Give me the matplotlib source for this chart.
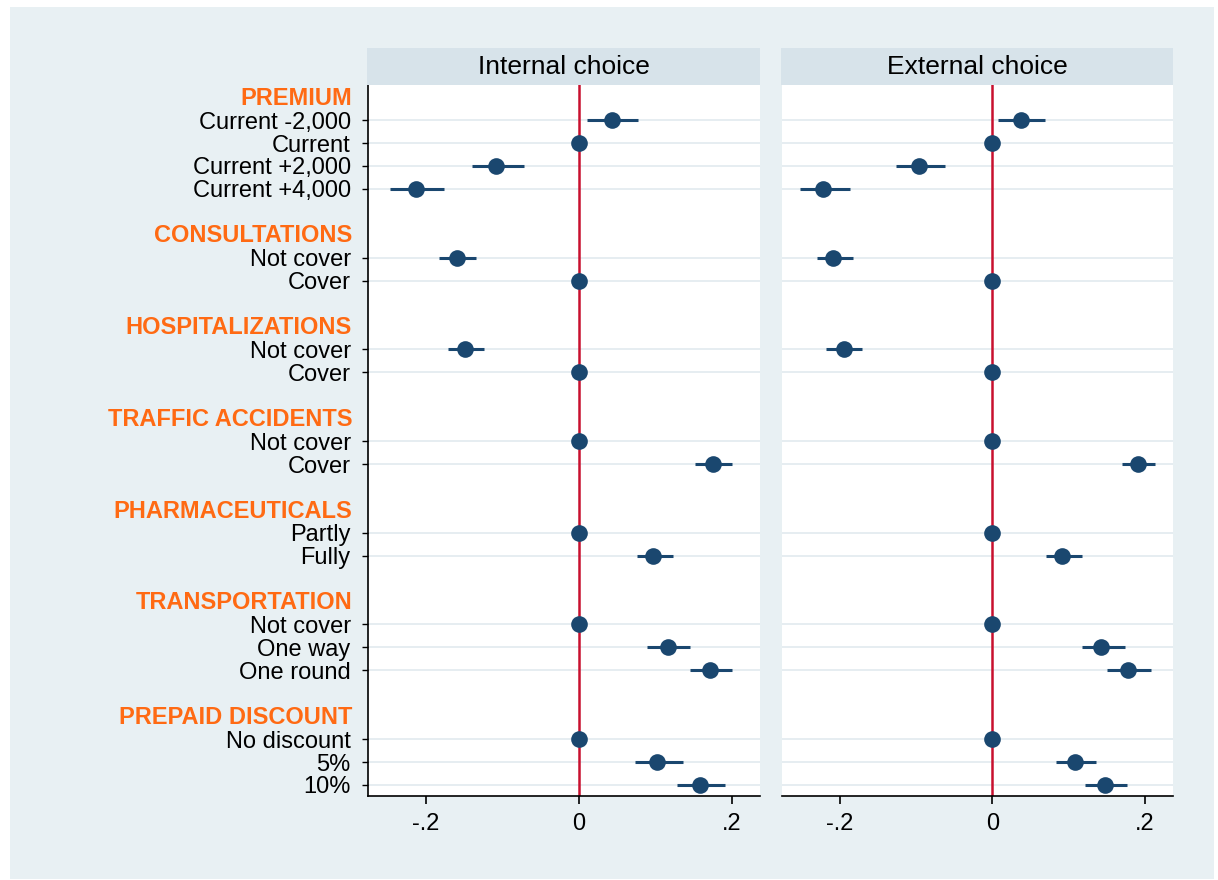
import numpy as np
import matplotlib
matplotlib.use("Agg")
import matplotlib.pyplot as plt
from matplotlib.patches import Rectangle
import matplotlib.transforms as mtransforms

plt.rcParams["font.family"] = ["Liberation Sans", "DejaVu Sans"]

# Attribute groups and their levels (top to bottom)
groups = ["PREMIUM", "CONSULTATIONS", "HOSPITALIZATIONS", "TRAFFIC ACCIDENTS",
          "PHARMACEUTICALS", "TRANSPORTATION", "PREPAID DISCOUNT"]
levels = [
    ["Current -2,000", "Current", "Current +2,000", "Current +4,000"],
    ["Not cover", "Cover"],
    ["Not cover", "Cover"],
    ["Not cover", "Cover"],
    ["Partly", "Fully"],
    ["Not cover", "One way", "One round"],
    ["No discount", "5%", "10%"],
]

# Coefficients and 95% CI bounds, one entry per level (reference levels = 0)
internal_coef = [0.043, 0.0, -0.108, -0.213, -0.160, 0.0, -0.149, 0.0, 0.0, 0.175,
                 0.0, 0.097, 0.0, 0.116, 0.172, 0.0, 0.102, 0.158]
internal_lo = [0.010, 0.0, -0.140, -0.247, -0.183, 0.0, -0.171, 0.0, 0.0, 0.152,
               0.0, 0.076, 0.0, 0.089, 0.146, 0.0, 0.073, 0.129]
internal_hi = [0.077, 0.0, -0.072, -0.176, -0.135, 0.0, -0.124, 0.0, 0.0, 0.201,
               0.0, 0.123, 0.0, 0.146, 0.201, 0.0, 0.136, 0.191]

external_coef = [0.038, 0.0, -0.096, -0.222, -0.209, 0.0, -0.195, 0.0, 0.0, 0.191,
                 0.0, 0.091, 0.0, 0.143, 0.178, 0.0, 0.108, 0.148]
external_lo = [0.008, 0.0, -0.126, -0.252, -0.230, 0.0, -0.218, 0.0, 0.0, 0.170,
               0.0, 0.070, 0.0, 0.117, 0.151, 0.0, 0.084, 0.122]
external_hi = [0.069, 0.0, -0.062, -0.187, -0.183, 0.0, -0.171, 0.0, 0.0, 0.214,
               0.0, 0.117, 0.0, 0.174, 0.208, 0.0, 0.136, 0.177]

panel_titles = ["Internal choice", "External choice"]
xticks = [-0.2, 0.0, 0.2]
xticklabels = ["-.2", "0", ".2"]

# Row layout: header row, level rows, then a blank row between groups
header_rows, item_rows, item_labels = [], [], []
r = 0
for g, lv in zip(groups, levels):
    header_rows.append(r)
    r += 1
    for name in lv:
        item_rows.append(r)
        item_labels.append(name)
        r += 1
    r += 1
last_row = item_rows[-1]

W, H = 1218, 880
fig = plt.figure(figsize=(W / 100, H / 100), dpi=100)
fig.patch.set_facecolor("white")

BG = "#e8f0f3"
STRIP = "#d7e3ea"
NAVY = "#1a476f"
RED = "#c8102e"
ORANGE = "#ff6a13"

fig.add_artist(Rectangle((10 / W, 1 - 879 / H), (1214 - 10) / W, (879 - 7) / H,
                         transform=fig.transFigure, facecolor=BG,
                         edgecolor="none", zorder=-10))

def fx(px):
    return px / W

def fy(py):
    return 1 - py / H

panel_px = [(368, 760), (782, 1173)]
top_px, bot_px = 85, 796
strip_top = 48

data = [(internal_coef, internal_lo, internal_hi),
        (external_coef, external_lo, external_hi)]

for i, ((x0, x1), (coef, lo, hi), title) in enumerate(zip(panel_px, data, panel_titles)):
    ax = fig.add_axes([fx(x0), fy(bot_px), fx(x1 - x0), (bot_px - top_px) / H])
    ax.set_facecolor("white")
    ax.set_xlim(-0.276, 0.237)
    ax.set_ylim(last_row + 0.48, -0.53)

    ax.set_yticks(item_rows)
    ax.grid(axis="y", color="#e4ecf0", linewidth=1.3, zorder=0)
    ax.set_axisbelow(True)

    ax.axvline(0, color=RED, linewidth=1.8, zorder=2)
    ax.hlines(item_rows, lo, hi, color=NAVY, linewidth=2.2, zorder=3)
    ax.plot(coef, item_rows, "o", color=NAVY, markersize=12, zorder=4,
            markeredgewidth=0)

    ax.set_xticks(xticks)
    ax.set_xticklabels(xticklabels)
    ax.tick_params(axis="x", direction="out", length=6, width=1.2,
                   labelsize=17, pad=6, colors="black")

    for s in ["top", "right"]:
        ax.spines[s].set_visible(False)
    ax.spines["bottom"].set_linewidth(1.2)

    if i == 0:
        ax.set_yticklabels(item_labels)
        ax.tick_params(axis="y", direction="out", length=4.5, width=1.0,
                       labelsize=17, pad=8)
        ax.spines["left"].set_linewidth(1.2)
        trans = mtransforms.blended_transform_factory(ax.transAxes, ax.transData)
        for g, hr in zip(groups, header_rows):
            ax.text(-(368 - 352) / (x1 - x0), hr + 0.05, g, transform=trans,
                    ha="right", va="center", fontsize=17, fontweight="bold",
                    color=ORANGE)
    else:
        ax.spines["left"].set_visible(False)
        ax.tick_params(axis="y", length=0, labelleft=False)

    # Panel title strip
    sax = fig.add_axes([fx(x0 - 1), fy(top_px), fx(x1 - x0 + 1), (top_px - strip_top) / H])
    sax.set_facecolor(STRIP)
    sax.set_xticks([])
    sax.set_yticks([])
    for s in sax.spines.values():
        s.set_visible(False)
    sax.text(0.5, 0.5, title, ha="center", va="center", fontsize=19,
             transform=sax.transAxes)

fig.savefig("out.png", dpi=100, facecolor=fig.get_facecolor())
